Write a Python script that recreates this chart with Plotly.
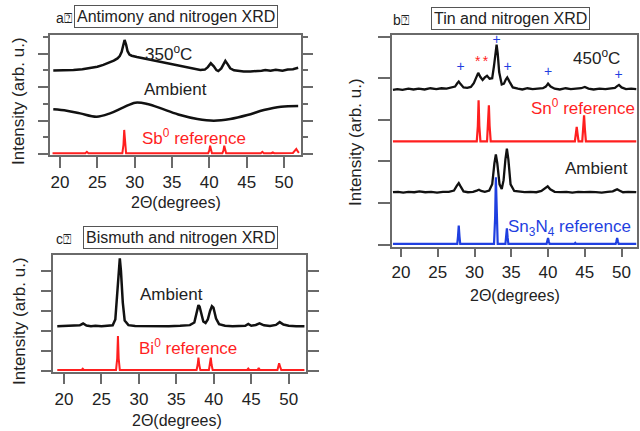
import plotly.graph_objects as go

W, H = 640, 431

# ---------------- Panel a : Antimony ----------------
a_350_x = [19.1, 20.5, 21.8, 23.0, 24.0, 25.0, 25.8, 26.6, 27.2, 27.7, 28.0, 28.25, 28.45, 28.65, 28.85, 29.05, 29.3, 29.6, 30.3, 31.0, 31.7,
           32.5, 33.4, 34.3, 35.2, 36.1, 37.0, 37.9, 38.8, 39.4, 39.8, 40.2, 40.6, 40.95, 41.2, 41.6, 41.9, 42.15, 42.45, 42.8, 43.3,
           44.0, 44.6, 45.5, 46.4, 47.0, 47.5, 48.2, 48.9, 49.8, 50.5, 51.2, 51.9]
a_350_y = [4.99, 5.00, 5.03, 5.07, 5.13, 5.22, 5.33, 5.46, 5.59, 5.72, 5.86, 6.10, 6.50, 6.82, 6.55, 6.15, 5.95, 5.88, 5.80, 5.74, 5.67,
           5.60, 5.51, 5.44, 5.37, 5.29, 5.21, 5.12, 5.03, 5.05, 5.20, 5.43, 5.25, 5.02, 4.96, 5.12, 5.40, 5.57, 5.38, 5.13, 5.01,
           4.96, 4.93, 4.94, 4.95, 4.98, 5.02, 4.98, 5.04, 4.98, 5.05, 5.07, 5.16]

a_amb_x = [19.1, 20.9, 22.7, 24.9, 26.7, 28.5, 30.1, 31.7, 33.9, 36.1, 38.4, 40.6, 42.8, 45.1, 47.3, 49.6, 51.9]
a_amb_y = [2.67, 2.59, 2.43, 2.23, 2.43, 2.79, 3.07, 2.99, 2.67, 2.33, 2.09, 1.99, 2.09, 2.33, 2.63, 2.83, 2.87]

a_ref_x = [19.0, 23.4, 23.6, 23.8, 28.35, 28.5, 28.6, 28.7, 28.85, 39.85, 40.0, 40.1, 40.2, 40.35, 41.75, 41.9, 42.0, 42.1, 42.25,
           46.9, 47.1, 47.3, 48.3, 48.5, 48.7, 51.2, 51.45, 51.65, 51.85, 52.0]
a_ref_y = [0.05, 0.05, 0.13, 0.05, 0.05, 0.55, 1.44, 0.55, 0.05, 0.05, 0.22, 0.50, 0.22, 0.05, 0.05, 0.22, 0.50, 0.22, 0.05,
           0.05, 0.13, 0.05, 0.05, 0.10, 0.05, 0.06, 0.20, 0.30, 0.15, 0.07]

# ---------------- Panel b : Tin ----------------
b_450_x = [18.9, 19.5, 20.2, 21.0, 21.7, 22.4, 23.2, 24.0, 24.8, 25.5, 26.2, 26.9, 27.35, 27.65, 27.85, 28.1, 28.5, 29.0, 29.5, 29.9,
           30.25, 30.5, 30.8, 31.1, 31.4, 31.7, 32.05, 32.4, 32.65, 32.85, 33.0, 33.15, 33.35, 33.7, 34.0, 34.25, 34.45, 34.75, 35.2,
           35.9, 36.5, 37.2, 37.9, 38.6, 39.3, 39.7, 40.0, 40.35, 40.9, 41.6, 42.4, 43.1, 43.8, 44.5, 45.0, 45.5, 46.2, 47.0, 47.8,
           48.5, 49.1, 49.4, 49.65, 50.0, 50.6, 51.3, 52.0]
b_450_y = [3.72, 3.74, 3.72, 3.75, 3.73, 3.75, 3.73, 3.76, 3.74, 3.76, 3.75, 3.77, 3.80, 3.88, 3.92, 3.86, 3.78, 3.77, 3.79, 3.88,
           4.05, 4.13, 4.03, 3.96, 4.02, 4.06, 3.99, 4.00, 4.30, 4.62, 4.81, 4.60, 4.15, 3.85, 3.87, 3.97, 4.02, 3.92, 3.78,
           3.75, 3.73, 3.76, 3.74, 3.75, 3.76, 3.80, 3.87, 3.80, 3.75, 3.73, 3.76, 3.74, 3.75, 3.76, 3.79, 3.75, 3.73, 3.75, 3.74,
           3.75, 3.77, 3.81, 3.84, 3.78, 3.74, 3.75, 3.74]

b_snref_x = [18.9, 30.3, 30.45, 30.55, 30.65, 30.8, 31.7, 31.85, 31.95, 32.05, 32.2, 43.65, 43.8, 43.9, 44.0, 44.15,
             44.65, 44.8, 44.9, 45.0, 45.15, 52.0]
b_snref_y = [2.48, 2.48, 2.85, 3.47, 2.85, 2.48, 2.48, 2.85, 3.35, 2.85, 2.48, 2.48, 2.68, 2.83, 2.68, 2.48,
             2.48, 2.80, 3.11, 2.80, 2.48, 2.48]

b_amb_x = [18.9, 19.6, 20.3, 21.0, 21.8, 22.5, 23.3, 24.1, 24.9, 25.7, 26.5, 27.2, 27.6, 27.85, 28.1, 28.5, 29.1, 29.8, 30.3, 30.6,
           30.9, 31.4, 32.0, 32.4, 32.7, 32.9, 33.1, 33.4, 33.7, 33.95, 34.2, 34.4, 34.6, 34.9, 35.4, 36.0, 36.8, 37.6, 38.4, 39.1,
           39.6, 39.95, 40.3, 40.9, 41.7, 42.5, 43.3, 44.1, 44.9, 45.7, 46.5, 47.3, 48.1, 48.8, 49.15, 49.4, 49.7, 50.2, 50.9, 51.5, 52.0]
b_amb_y = [1.26, 1.27, 1.25, 1.27, 1.26, 1.28, 1.26, 1.27, 1.25, 1.27, 1.27, 1.30, 1.42, 1.48, 1.40, 1.28, 1.26, 1.27, 1.30, 1.32,
           1.29, 1.27, 1.30, 1.45, 1.95, 2.17, 1.95, 1.45, 1.34, 1.55, 2.05, 2.31, 2.05, 1.45, 1.29, 1.27, 1.26, 1.27, 1.26, 1.29,
           1.35, 1.40, 1.33, 1.27, 1.26, 1.27, 1.25, 1.27, 1.26, 1.27, 1.26, 1.25, 1.27, 1.28, 1.31, 1.33, 1.30, 1.26, 1.27, 1.26, 1.26]

b_nref_x = [18.9, 27.65, 27.75, 27.85, 27.95, 28.05, 32.65, 32.8, 32.9, 33.0, 33.15, 34.2, 34.3, 34.4, 34.5, 34.6,
            39.8, 39.9, 40.0, 40.1, 40.2, 43.6, 43.7, 43.8, 49.2, 49.3, 49.4, 49.5, 49.6, 52.0]
b_nref_y = [0.02, 0.02, 0.20, 0.46, 0.20, 0.02, 0.02, 0.65, 1.62, 0.65, 0.02, 0.02, 0.18, 0.39, 0.18, 0.02,
            0.02, 0.08, 0.16, 0.08, 0.02, 0.02, 0.04, 0.02, 0.02, 0.08, 0.16, 0.08, 0.02, 0.02]

b_plus_x = [28.1, 33.0, 34.5, 40.0, 49.6]
b_plus_y = [4.27, 4.92, 4.27, 4.15, 4.06]
b_star_x = [30.45, 31.5]
b_star_y = [4.38, 4.38]

# ---------------- Panel c : Bismuth ----------------
c_amb_x = [19.1, 20.5, 21.6, 22.1, 22.55, 23.0, 23.6, 24.2, 25.0, 25.8, 26.5, 26.85, 27.1, 27.3, 27.45, 27.6, 27.85, 28.1, 28.6,
           29.5, 31.0, 32.5, 34.0, 35.5, 36.8, 37.4, 37.75, 37.95, 38.1, 38.3, 38.6, 38.9, 39.2, 39.5, 39.75, 39.95, 40.3, 40.7,
           41.5, 42.5, 43.5, 44.2, 44.6, 45.0, 45.6, 46.1, 46.7, 47.5, 48.3, 48.8, 49.3, 50.0, 51.0, 52.1]
c_amb_y = [2.22, 2.23, 2.22, 2.26, 2.35, 2.25, 2.22, 2.24, 2.22, 2.23, 2.26, 2.55, 3.90, 5.20, 5.61, 5.00, 3.40, 2.50, 2.27,
           2.23, 2.22, 2.23, 2.22, 2.24, 2.27, 2.40, 2.95, 3.27, 3.20, 2.85, 2.45, 2.38, 2.55, 2.98, 3.22, 3.15, 2.60, 2.32,
           2.24, 2.22, 2.23, 2.24, 2.33, 2.24, 2.28, 2.36, 2.26, 2.23, 2.28, 2.42, 2.30, 2.24, 2.22, 2.21]

c_ref_x = [19.1, 22.35, 22.5, 22.65, 26.95, 27.1, 27.2, 27.3, 27.45, 37.7, 37.85, 37.95, 38.05, 38.2, 39.35, 39.5, 39.6, 39.7, 39.85,
           44.45, 44.6, 44.75, 45.85, 46.0, 46.15, 48.5, 48.62, 48.72, 48.85, 49.0, 52.1]
c_ref_y = [0.03, 0.03, 0.09, 0.03, 0.03, 0.60, 1.72, 0.60, 0.03, 0.03, 0.30, 0.64, 0.30, 0.03, 0.03, 0.30, 0.64, 0.30, 0.03,
           0.03, 0.10, 0.03, 0.03, 0.13, 0.03, 0.03, 0.22, 0.36, 0.20, 0.03, 0.03]

# ---------------- Text ----------------
x_title = "2\u0398(degrees)"
y_title = "Intensity (arb. u.)"
tick_vals = [20, 25, 30, 35, 40, 45, 50]
tick_text = ["20", "25", "30", "35", "40", "45", "50"]

BLACK = "#111111"
RED = "#ff1f1f"
BLUE = "#1f3fe0"
AXC = "#6a6a6a"
FONT = "Liberation Sans, Arial, sans-serif"

fig = go.Figure()

def line(x, y, color, width, xa, ya, shape="linear"):
    fig.add_trace(go.Scatter(x=x, y=y, mode="lines", line=dict(color=color, width=width, shape=shape),
                             xaxis=xa, yaxis=ya, hoverinfo="skip", showlegend=False))

line(a_350_x, a_350_y, BLACK, 2.5, "x", "y")
line(a_amb_x, a_amb_y, BLACK, 2.5, "x", "y", "spline")
line(a_ref_x, a_ref_y, RED, 2, "x", "y")

line(b_450_x, b_450_y, BLACK, 2.3, "x2", "y2")
line(b_snref_x, b_snref_y, RED, 2.2, "x2", "y2")
line(b_amb_x, b_amb_y, BLACK, 2.3, "x2", "y2")
line(b_nref_x, b_nref_y, BLUE, 2.2, "x2", "y2")
fig.add_trace(go.Scatter(x=b_plus_x, y=b_plus_y, mode="text", text=["+"] * len(b_plus_x),
                         textfont=dict(color=BLUE, size=14, family=FONT), xaxis="x2", yaxis="y2",
                         hoverinfo="skip", showlegend=False))
fig.add_trace(go.Scatter(x=b_star_x, y=b_star_y, mode="text", text=["*"] * len(b_star_x),
                         textfont=dict(color=RED, size=14, family=FONT), xaxis="x2", yaxis="y2",
                         hoverinfo="skip", showlegend=False))

line(c_amb_x, c_amb_y, BLACK, 2.5, "x3", "y3")
line(c_ref_x, c_ref_y, RED, 2, "x3", "y3")

def px(x):
    return x / W

def py(y):
    return 1 - y / H

def xaxis(domain, rng, ticklen, anchor):
    return dict(domain=domain, range=rng, anchor=anchor, tickvals=tick_vals, ticktext=tick_text, ticks="outside",
                ticklen=ticklen, tickwidth=1.5, tickcolor=AXC, showline=True, linecolor=AXC, linewidth=1.5,
                mirror=True, showgrid=False, zeroline=False, tickfont=dict(size=17, color="#222", family=FONT),
                fixedrange=True)

def yaxis(domain, rng, dtick, ticklen, mirror, anchor, minor=None):
    d = dict(domain=domain, range=rng, anchor=anchor, tick0=0, dtick=dtick, ticks="outside", ticklen=ticklen,
             tickwidth=1.5, tickcolor=AXC, showline=True, linecolor=AXC, linewidth=1.5, mirror=mirror,
             showgrid=False, zeroline=False, showticklabels=False, fixedrange=True)
    if minor:
        d["minor"] = minor
    return d

fig.update_layout(
    width=W, height=H, margin=dict(l=0, r=0, t=0, b=0),
    paper_bgcolor="white", plot_bgcolor="white",
    font=dict(family=FONT, color="#222"),
    xaxis=xaxis([px(50), px(301.3)], [18.66, 52.32], 11, "y"),
    yaxis=yaxis([py(155), py(35)], [-0.06, 7.12], 2, 10, "ticks", "x",
                minor=dict(dtick=1, tick0=0, ticks="outside", ticklen=5, tickwidth=1.5, tickcolor=AXC)),
    xaxis2=xaxis([px(391.7), px(637)], [18.73, 52.1], 9, "y2"),
    yaxis2=yaxis([py(246.7), py(35)], [-0.05, 5.04], 1, 12, True, "x2"),
    xaxis3=xaxis([px(53.3), px(306.3)], [18.57, 52.35], 11, "y3"),
    yaxis3=yaxis([py(371.5), py(255)], [-0.05, 5.78], 1, 11, "ticks", "x3"),
)

ann = []

def paper_text(x, y, text, size, color="#222", angle=0, **kw):
    ann.append(dict(x=px(x), y=py(y), xref="paper", yref="paper", text=text, showarrow=False,
                    font=dict(size=size, color=color, family=FONT), textangle=angle,
                    xanchor="center", yanchor="middle", **kw))

def data_text(x, y, xa, ya, text, size, color):
    ann.append(dict(x=x, y=y, xref=xa, yref=ya, text=text, showarrow=False,
                    font=dict(size=size, color=color, family=FONT), xanchor="center", yanchor="middle"))

# panel titles (boxed)
paper_text(175.5, 17, "Antimony and nitrogen XRD", 16, bordercolor="#555", borderwidth=1, borderpad=2)
paper_text(510, 19, "Tin and nitrogen XRD", 16, bordercolor="#555", borderwidth=1, borderpad=2)
paper_text(180, 237, "Bismuth and nitrogen XRD", 16, bordercolor="#555", borderwidth=1, borderpad=2)
paper_text(64, 18, "a\u2370", 14)
paper_text(401, 20, "b\u2370", 14)
paper_text(63, 239, "c\u2370", 14)

# axis titles
paper_text(176, 203, x_title, 16)
paper_text(515, 295, x_title, 16)
paper_text(177, 420, x_title, 16)
paper_text(18, 101, y_title, 17, angle=-90)
paper_text(355, 142, y_title, 17, angle=-90)
paper_text(19, 321, y_title, 17, angle=-90)

# curve labels
data_text(34.5, 6.05, "x", "y", "350<sup>o</sup>C", 17, "#222")
data_text(35.5, 3.83, "x", "y", "Ambient", 17, "#222")
data_text(37.9, 1.0, "x", "y", "Sb<sup>0</sup> reference", 17, RED)

data_text(46.6, 4.52, "x2", "y2", "450<sup>o</sup>C", 17, "#222")
data_text(44.7, 3.32, "x2", "y2", "Sn<sup>0</sup> reference", 17, RED)
data_text(46.6, 1.83, "x2", "y2", "Ambient", 17, "#222")
data_text(42.9, 0.40, "x2", "y2", "Sn<sub>3</sub>N<sub>4</sub> reference", 17, BLUE)

data_text(34.4, 3.78, "x3", "y3", "Ambient", 17, "#222")
data_text(36.6, 1.2, "x3", "y3", "Bi<sup>0</sup> reference", 17, RED)

fig.update_layout(annotations=ann)

fig.write_html("out.html")
